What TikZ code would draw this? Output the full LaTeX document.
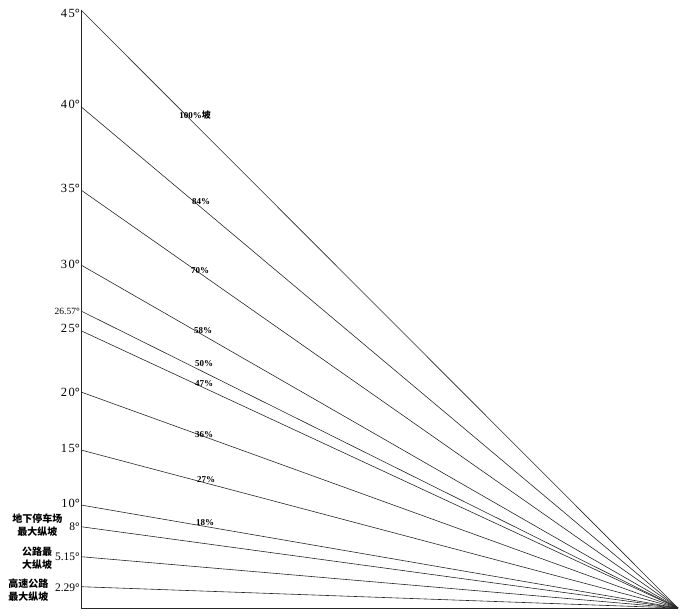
\documentclass[tikz,border=0pt]{standalone}
\usepackage{fontspec}
\setmainfont{Liberation Serif}
\newfontfamily\cjk{Noto Sans CJK SC}
\newcommand{\dg}{\textbf{°}}
\begin{document}
\begin{tikzpicture}[x=1pt,y=-1pt,
  ray/.style={line width=0.6pt, draw=black!85},
  axisline/.style={line width=0.8pt, draw=black!85},
  deg/.style={anchor=base east, inner sep=0pt, font=\fontsize{12.5}{12.5}\selectfont},
  degsmall/.style={anchor=base east, inner sep=0pt, font=\fontsize{9.5}{9.5}\selectfont},
  degmid/.style={anchor=base east, inner sep=0pt, font=\fontsize{11.5}{11.5}\selectfont},
  pct/.style={inner sep=0pt, font=\fontsize{9}{9}\selectfont\bfseries},
  cn/.style={inner sep=0pt, align=center, font=\cjk\bfseries\fontsize{10}{12.5}\selectfont}]
\useasboundingbox (0,0) rectangle (700,615);
\coordinate (A) at (678,608);
\coordinate (O) at (81,608);
\coordinate (T) at (81,10);
\draw[axisline] (T) -- (O) -- (A);
\foreach \i/\y in {1/10,2/106.7,3/190,4/265,5/311,6/330.7,7/392,8/450,9/505,10/526.7,11/556.7,12/586.7}{
  \coordinate (p\i) at (81,\y);
  \draw[ray] (p\i) -- (A);
}
% axis labels
\node[deg] (l1) at (80,18) {4\kern1.5pt5\dg};
\node[deg] (l2) at (80,108) {4\kern1.5pt0\dg};
\node[deg] (l3) at (80,192) {3\kern1.5pt5\dg};
\node[deg] (l4) at (80,268) {3\kern1.5pt0\dg};
\node[degsmall] (l5) at (80,314) {26.57\dg};
\node[deg] (l6) at (80,332) {2\kern1.5pt5\dg};
\node[deg] (l7) at (80,396) {2\kern1.5pt0\dg};
\node[deg] (l8) at (80,452) {1\kern1.5pt5\dg};
\node[deg] (l9) at (80,507) {1\kern1pt0\dg};
\node[degmid] (l10) at (80,530) {8\dg};
\node[degmid] (l11) at (80,560) {5.15\dg};
\node[degmid] (l12) at (80,591) {2.29\dg};
% chinese labels
\node[cn] (c1) at (37.5,525) {地下停车场\\最大纵坡};
\node[cn] (c2) at (37,558) {公路最\\大纵坡};
\node[cn] (c3) at (28.5,590) {高速公路\\最大纵坡};
% percent labels
\node[pct] (q1) at (195,115) {100\%{\cjk 坡}};
\node[pct] (q2) at (201,202) {84\%};
\node[pct] (q3) at (200,271) {70\%};
\node[pct] (q4) at (203,331) {58\%};
\node[pct] (q5) at (204,364) {50\%};
\node[pct] (q6) at (204,384) {47\%};
\node[pct] (q7) at (204,435) {36\%};
\node[pct] (q8) at (206,480) {27\%};
\node[pct] (q9) at (205,523) {18\%};
\end{tikzpicture}
\end{document}
